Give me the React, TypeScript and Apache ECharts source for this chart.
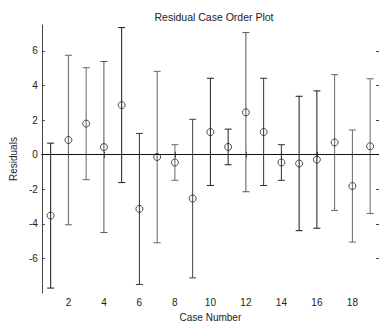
import React, { useEffect, useRef } from "react";
import * as echarts from "echarts";

const caseNumbers = [1, 2, 3, 4, 5, 6, 7, 8, 9, 10, 11, 12, 13, 14, 15, 16, 17, 18, 19];
const residuals = [-3.52, 0.85, 1.8, 0.44, 2.87, -3.13, -0.13, -0.45, -2.53, 1.31, 0.45, 2.45, 1.31, -0.45, -0.51, -0.28, 0.71, -1.81, 0.49];
const lowerBounds = [-7.71, -4.05, -1.44, -4.5, -1.61, -7.5, -5.09, -1.48, -7.12, -1.78, -0.58, -2.14, -1.78, -1.48, -4.39, -4.25, -3.22, -5.05, -3.4];
const upperBounds = [0.67, 5.75, 5.03, 5.39, 7.35, 1.23, 4.82, 0.58, 2.05, 4.42, 1.48, 7.06, 4.42, 0.58, 3.38, 3.69, 4.63, 1.43, 4.39];
const xTicks = [2, 4, 6, 8, 10, 12, 14, 16, 18];
const yTicks = [-6, -4, -2, 0, 2, 4, 6];

const barColors = [
  "#1a1a1a", "#666", "#666", "#555", "#1a1a1a", "#333", "#666", "#666", "#444", "#222",
  "#222", "#555", "#333", "#333", "#1a1a1a", "#1a1a1a", "#666", "#666", "#666",
];

const FONT = "Liberation Sans, Arial, sans-serif";

export default function App() {
  const ref = useRef<HTMLDivElement>(null);

  useEffect(() => {
    if (!ref.current) return;
    const chart = echarts.init(ref.current, undefined, { renderer: "svg" });

    const axisLine = { show: true, lineStyle: { color: "#444", width: 1 } };
    const tickStyle = { lineStyle: { color: "#444", width: 1 } };

    const errData = caseNumbers.map((c, i) => [c, lowerBounds[i], upperBounds[i]]);
    const ptData = caseNumbers.map((c, i) => [c, residuals[i]]);

    chart.setOption({
      animation: false,
      backgroundColor: "#fff",
      textStyle: { fontFamily: FONT },
      title: {
        text: "Residual Case Order Plot",
        left: 209,
        textAlign: "center",
        top: 6,
        textStyle: { fontFamily: FONT, fontSize: 10.5, fontWeight: "normal", color: "#222" },
      },
      grid: { left: 38, top: 25, width: 343, height: 272 },
      xAxis: [
        {
          type: "value",
          position: "bottom",
          min: 0.5,
          max: 19.5,
          axisLine,
          axisTick: { show: true, inside: true, length: 3, customValues: xTicks, ...tickStyle },
          axisLabel: { customValues: xTicks, fontSize: 10, color: "#222", margin: 4, fontFamily: FONT },
          splitLine: { show: false },
          name: "Case Number",
          nameLocation: "middle",
          nameGap: 16,
          nameTextStyle: { fontSize: 10, color: "#222", fontFamily: FONT },
        },
        {
          type: "value",
          position: "top",
          min: 0.5,
          max: 19.5,
          axisLine,
          axisTick: { show: true, inside: true, length: 3, customValues: xTicks, ...tickStyle },
          axisLabel: { show: false },
          splitLine: { show: false },
        },
      ],
      yAxis: [
        {
          type: "value",
          position: "left",
          min: -8,
          max: 7.5,
          axisLine,
          axisTick: { show: true, inside: true, length: 3, customValues: yTicks, ...tickStyle },
          axisLabel: { customValues: yTicks, fontSize: 10, color: "#222", margin: 4, fontFamily: FONT },
          splitLine: { show: false },
          name: "Residuals",
          nameLocation: "middle",
          nameGap: 16,
          nameRotate: 90,
          nameTextStyle: { fontSize: 10, color: "#222", fontFamily: FONT },
        },
        {
          type: "value",
          position: "right",
          min: -8,
          max: 7.5,
          axisLine,
          axisTick: { show: true, inside: true, length: 3, customValues: yTicks, ...tickStyle },
          axisLabel: { show: false },
          splitLine: { show: false },
        },
      ],
      series: [
        {
          type: "custom",
          xAxisIndex: 0,
          yAxisIndex: 0,
          data: errData,
          renderItem: (params: any, api: any) => {
            const x = api.value(0);
            const lo = api.value(1);
            const hi = api.value(2);
            const pLo = api.coord([x, lo]);
            const pHi = api.coord([x, hi]);
            const w = 3.5;
            const style = { stroke: barColors[params.dataIndex], lineWidth: 1 };
            return {
              type: "group",
              children: [
                { type: "line", shape: { x1: pHi[0], y1: pHi[1], x2: pLo[0], y2: pLo[1] }, style },
                { type: "line", shape: { x1: pHi[0] - w, y1: pHi[1], x2: pHi[0] + w, y2: pHi[1] }, style },
                { type: "line", shape: { x1: pLo[0] - w, y1: pLo[1], x2: pLo[0] + w, y2: pLo[1] }, style },
              ],
            };
          },
        },
        {
          type: "scatter",
          xAxisIndex: 0,
          yAxisIndex: 0,
          data: ptData,
          symbol: "circle",
          symbolSize: 7,
          itemStyle: { color: "rgba(0,0,0,0)", borderColor: "#222", borderWidth: 1 },
          markLine: {
            silent: true,
            symbol: ["none", "none"],
            label: { show: false },
            lineStyle: { color: "#111", type: "solid", width: 1 },
            data: [{ yAxis: 0 }],
          },
        },
      ],
    });

    return () => chart.dispose();
  }, []);

  return (
    <div
      ref={ref}
      style={{ position: "absolute", left: 0, top: 0, width: 379, height: 327, background: "#fff" }}
    />
  );
}
